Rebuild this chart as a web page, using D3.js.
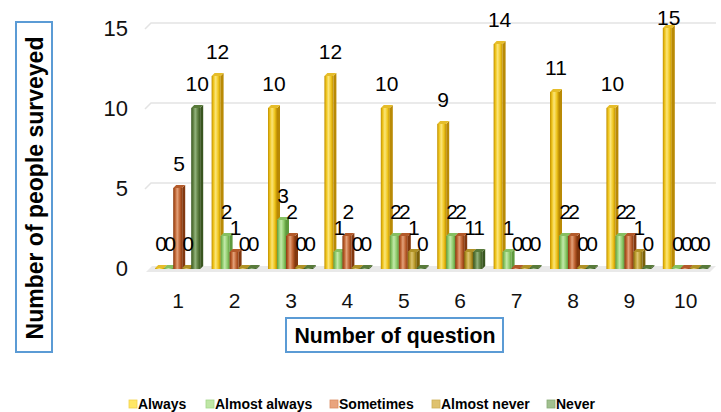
<!DOCTYPE html>
<html>
<head>
<meta charset="utf-8">
<script src="https://cdn.jsdelivr.net/npm/d3@7/dist/d3.min.js"></script>
<style>
  html, body { margin: 0; padding: 0; background: #ffffff; }
  svg { display: block; font-family: "Liberation Sans", Arial, sans-serif; }
</style>
</head>
<body>
<svg id="chart" width="721" height="412"></svg>
<script>
// Survey answers per question (number of people choosing each option)
const questions = ["1", "2", "3", "4", "5", "6", "7", "8", "9", "10"];
const seriesNames = ["Always", "Almost always", "Sometimes", "Almost never", "Never"];
const always       = [0, 12, 10, 12, 10, 9, 14, 11, 10, 15];
const almostAlways = [0, 2, 3, 1, 2, 2, 1, 2, 2, 0];
const sometimes    = [5, 1, 2, 2, 2, 2, 0, 2, 2, 0];
const almostNever  = [0, 0, 0, 0, 1, 1, 0, 0, 1, 0];
const never        = [10, 0, 0, 0, 0, 1, 0, 0, 0, 0];
const yTicks = [0, 5, 10, 15];

const seriesValues = [always, almostAlways, sometimes, almostNever, never];

// Bar shading: edge, body, highlight, side, top, plus legend swatch
const palette = [
  { edge: "#c08f00", body: "#efc51c", light: "#fbe57a", side: "#b98a05", top: "#e6bd2a", swatch: "#ffe766", swStroke: "#f2d24a" },
  { edge: "#5f9c3c", body: "#8fcb6c", light: "#c3e9aa", side: "#5e9a3d", top: "#86c062", swatch: "#bfe6a6", swStroke: "#a3d689" },
  { edge: "#8a3a0e", body: "#bd6130", light: "#e3a27a", side: "#82380f", top: "#b35a2a", swatch: "#e9a47d", swStroke: "#d98d63" },
  { edge: "#7f650a", body: "#b99a2c", light: "#dcc36e", side: "#7a6008", top: "#b09226", swatch: "#dfc26e", swStroke: "#cdb055" },
  { edge: "#3a5822", body: "#5e7f40", light: "#93b37d", side: "#38551f", top: "#587a3a", swatch: "#a1c08f", swStroke: "#88aa76" }
];

const svg = d3.select("#chart");
const defs = svg.append("defs");

palette.forEach((p, i) => {
  const g = defs.append("linearGradient")
    .attr("id", "grad" + i)
    .attr("x1", "0%").attr("x2", "100%").attr("y1", "0%").attr("y2", "0%");
  g.append("stop").attr("offset", "0%").attr("stop-color", p.edge);
  g.append("stop").attr("offset", "22%").attr("stop-color", p.body);
  g.append("stop").attr("offset", "45%").attr("stop-color", p.light);
  g.append("stop").attr("offset", "75%").attr("stop-color", p.body);
  g.append("stop").attr("offset", "100%").attr("stop-color", p.edge);
});

// Scales
const x = d3.scaleBand().domain(questions).range([150, 714]).paddingInner(0).paddingOuter(0);
const y = d3.scaleLinear().domain([0, 15]).range([268, 28]);

const depth = 3;       // 3D offset of bar top/side
const barW = 9;        // front face width
const step = 9;        // horizontal offset between series in a cluster
const wallDx = 6, wallDy = 6;  // back-wall offset for gridlines
const floorY = y(0) + 1;

// Back-wall gridlines with a short perspective segment on the left
const grid = svg.append("g");
yTicks.filter(t => t > 0).forEach(t => {
  const yy = y(t);
  grid.append("path")
    .attr("d", `M${145},${yy + 1} L${145 + wallDx},${yy + 1 - wallDy} L${716},${yy + 1 - wallDy}`)
    .attr("fill", "none")
    .attr("stroke", "#e3e3e3")
    .attr("stroke-width", 1.5);
});

// Floor band
svg.append("path")
  .attr("d", `M${146},${floorY + 3} L${152},${floorY - 3} L${716},${floorY - 3} L${710},${floorY + 3} Z`)
  .attr("fill", "#e9e9e9");

// Y axis tick labels
svg.append("g").selectAll("text")
  .data(yTicks)
  .join("text")
  .attr("x", 128)
  .attr("y", d => y(d))
  .attr("dy", "0.36em")
  .attr("text-anchor", "end")
  .attr("font-size", 22)
  .attr("fill", "#111")
  .text(d => d);

// Category labels
svg.append("g").selectAll("text")
  .data(questions)
  .join("text")
  .attr("x", d => x(d) + x.bandwidth() / 2)
  .attr("y", 308)
  .attr("text-anchor", "middle")
  .attr("font-size", 21)
  .attr("fill", "#111")
  .text(d => d);

// Bars as simple 3D boxes (front, side, top), drawn per cluster left to right
const bars = [];
questions.forEach((q, qi) => {
  seriesValues.forEach((vals, si) => {
    const x0 = x(q) + x.bandwidth() / 2 - 23 + si * step;
    bars.push({ q, si, v: vals[qi], x0 });
  });
});

const barG = svg.append("g");
bars.forEach(b => {
  const p = palette[b.si];
  const yt = y(b.v);
  const yb = floorY;
  const g = barG.append("g");
  // side face
  g.append("path")
    .attr("d", `M${b.x0 + barW},${yt} L${b.x0 + barW + depth},${yt - depth} L${b.x0 + barW + depth},${yb - depth} L${b.x0 + barW},${yb} Z`)
    .attr("fill", p.side);
  // front face
  if (yb - yt > 0) {
    g.append("rect")
      .attr("x", b.x0).attr("y", yt)
      .attr("width", barW).attr("height", yb - yt)
      .attr("fill", `url(#grad${b.si})`);
  }
  // top face
  g.append("path")
    .attr("d", `M${b.x0},${yt} L${b.x0 + depth},${yt - depth} L${b.x0 + barW + depth},${yt - depth} L${b.x0 + barW},${yt} Z`)
    .attr("fill", p.top);
});

// Value labels above each bar (kept inside the top edge of the chart)
svg.append("g").selectAll("text")
  .data(bars)
  .join("text")
  .attr("x", d => d.x0 + (barW + depth) / 2)
  .attr("y", d => Math.max(y(d.v) - 17, 25))
  .attr("text-anchor", "middle")
  .attr("font-size", 21)
  .attr("fill", "#000")
  .text(d => d.v);

// Axis titles in outlined boxes
svg.append("rect")
  .attr("x", 16).attr("y", 22).attr("width", 36).attr("height", 330)
  .attr("fill", "#fff").attr("stroke", "#5b9bd5").attr("stroke-width", 2);
svg.append("text")
  .attr("transform", "translate(35,188) rotate(-90)")
  .attr("text-anchor", "middle")
  .attr("dy", "0.36em")
  .attr("font-size", 23)
  .attr("font-weight", "bold")
  .attr("fill", "#000")
  .text("Number of people surveyed");

svg.append("rect")
  .attr("x", 286).attr("y", 318).attr("width", 217).attr("height", 34)
  .attr("fill", "#fff").attr("stroke", "#5b9bd5").attr("stroke-width", 2);
svg.append("text")
  .attr("x", 395).attr("y", 335)
  .attr("text-anchor", "middle")
  .attr("dy", "0.36em")
  .attr("font-size", 21.3)
  .attr("font-weight", "bold")
  .attr("fill", "#000")
  .text("Number of question");

// Legend
const legendX = [129, 206, 330, 432, 547];
const legend = svg.append("g").selectAll("g")
  .data(seriesNames)
  .join("g")
  .attr("transform", (d, i) => `translate(${legendX[i]},404)`);
legend.append("rect")
  .attr("x", 0).attr("y", -4).attr("width", 8).attr("height", 8)
  .attr("fill", (d, i) => palette[i].swatch)
  .attr("stroke", (d, i) => palette[i].swStroke)
  .attr("stroke-width", 0.8);
legend.append("text")
  .attr("x", 9).attr("y", 0)
  .attr("dy", "0.36em")
  .attr("font-size", 14)
  .attr("font-weight", "bold")
  .attr("fill", "#000")
  .text(d => d);
</script>
</body>
</html>
